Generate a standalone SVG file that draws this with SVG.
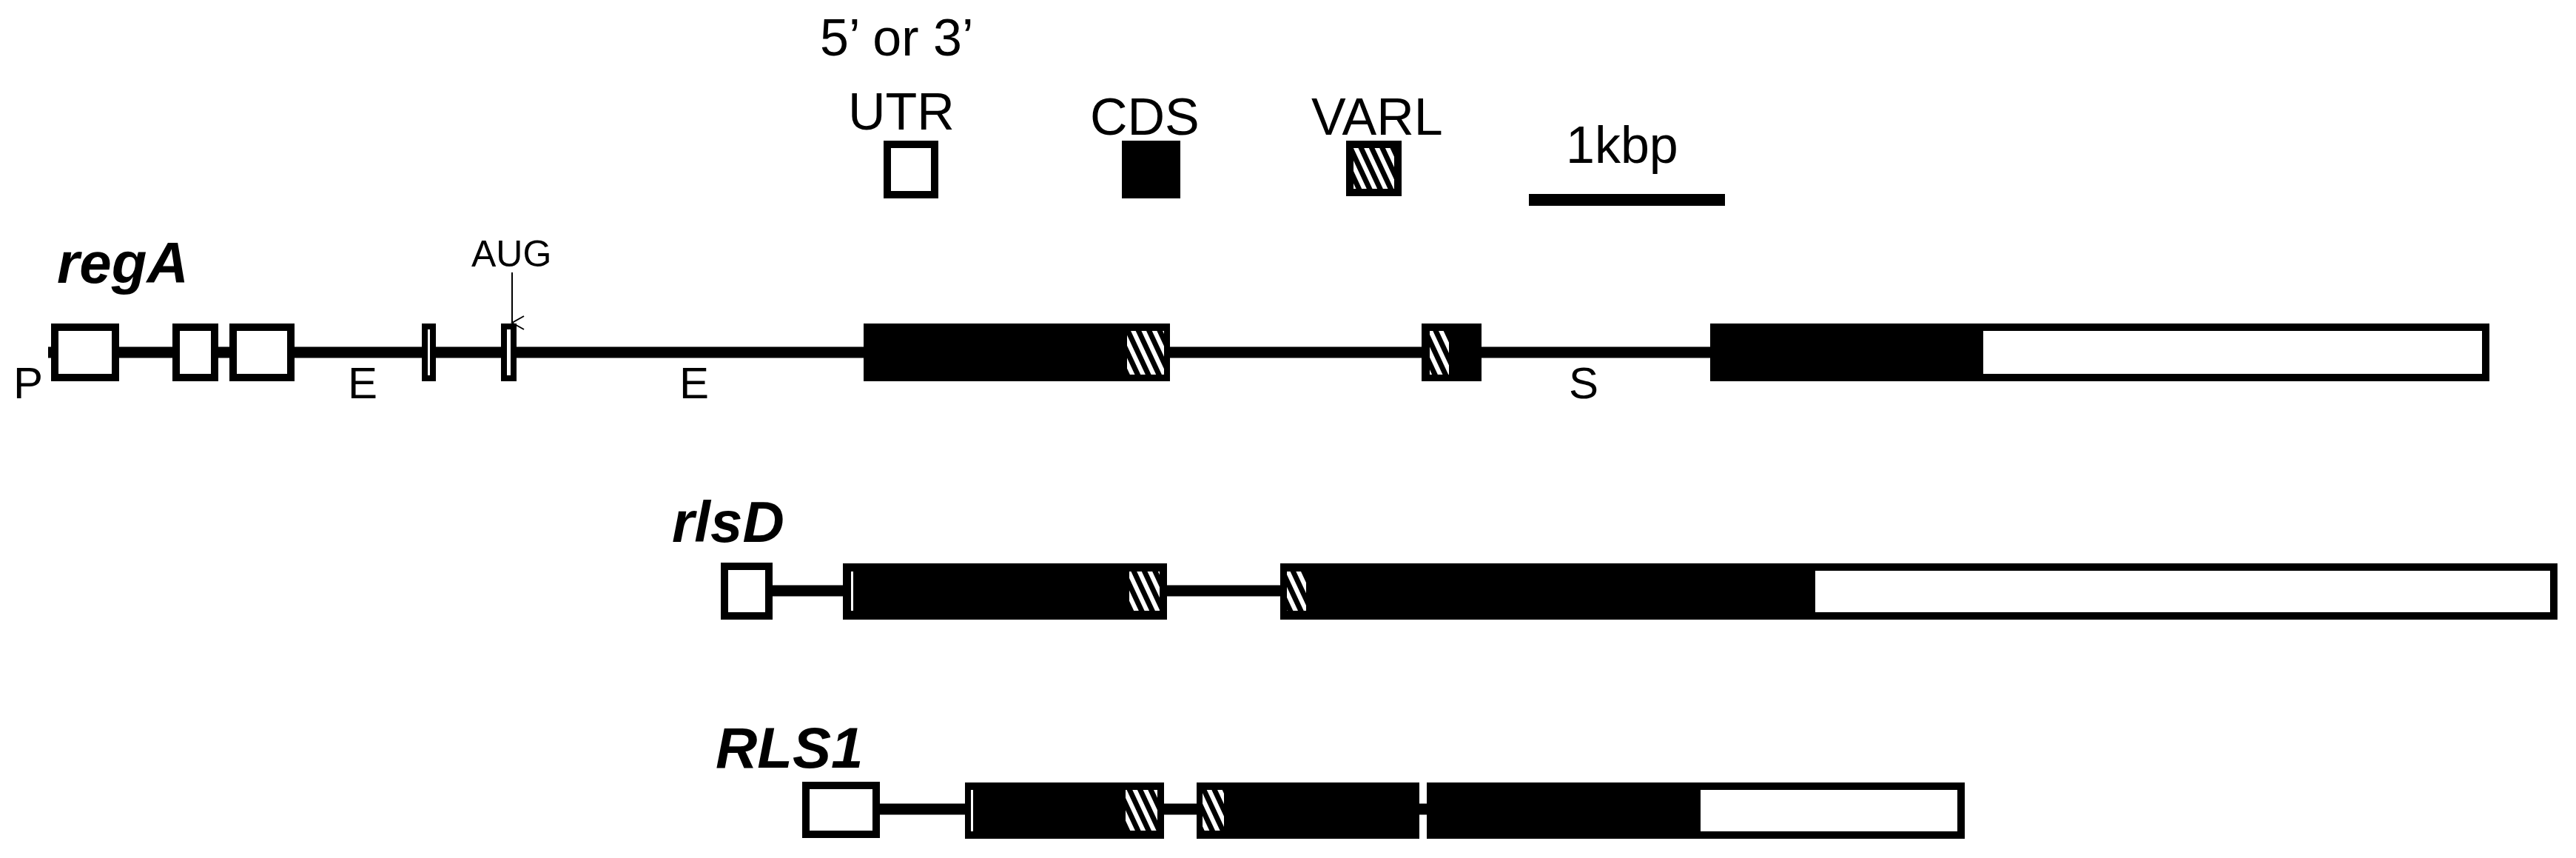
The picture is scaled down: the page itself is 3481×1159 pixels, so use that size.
<svg xmlns="http://www.w3.org/2000/svg" width="3481" height="1159" viewBox="0 0 3481 1159">
<style>
text{font-family:"Liberation Sans",Arial,sans-serif;fill:#000}
.lg{font-size:70px}
.gn{font-size:78px;font-weight:bold;font-style:italic}
.sm{font-size:60px}
.utr{fill:#fff;stroke:#000;stroke-width:10}
.cds{fill:#000}
.var{fill:url(#hatch)}
.ln{stroke:#000;stroke-width:15}
</style>
<defs>
<pattern id="hatch" patternUnits="userSpaceOnUse" width="13" height="13" patternTransform="rotate(-25)">
<rect width="13" height="13" fill="#000"/>
<rect x="0" y="0" width="6" height="13" fill="#fff"/>
</pattern>
<marker id="arr" markerWidth="20" markerHeight="20" refX="10" refY="18" orient="auto" markerUnits="userSpaceOnUse" viewBox="0 0 20 20">
<path d="M1,2 L10,18 L19,2" fill="none" stroke="#000" stroke-width="2"/>
</marker>
</defs>
<g id="legend">
<text class="lg" x="1108" y="75">5’ or 3’</text>
<text class="lg" x="1146" y="175">UTR</text>
<rect class="utr" x="1199" y="195" width="64" height="68"/>
<text class="lg" x="1473" y="182">CDS</text>
<rect class="cds" x="1516" y="190" width="79" height="78"/>
<text class="lg" x="1772" y="182">VARL</text>
<rect x="1819" y="190" width="75" height="75" fill="#000"/>
<rect class="var" x="1829" y="200" width="55" height="55"/>
<text class="lg" x="2116" y="220">1kbp</text>
<rect x="2066" y="262" width="265" height="16" fill="#000"/>
</g>
<g id="connectors">
<line class="ln" x1="65" y1="476" x2="1170" y2="476"/>
<line class="ln" x1="1580" y1="476" x2="2312" y2="476"/>
<line class="ln" x1="1044" y1="798" x2="1140" y2="798"/>
<line class="ln" x1="1576" y1="798" x2="1731" y2="798"/>
<line class="ln" x1="1189" y1="1093" x2="1305" y2="1093"/>
<line class="ln" x1="1572" y1="1093" x2="1930" y2="1093"/>
<line x1="692" y1="368" x2="692" y2="436" stroke="#000" stroke-width="2" marker-end="url(#arr)"/>
</g>
<g id="regA">
<text class="gn" x="77" y="382">regA</text>
<text class="sm" x="18" y="538">P</text>
<text class="sm" x="470" y="538">E</text>
<text class="sm" x="918" y="538">E</text>
<text class="sm" x="2120" y="538">S</text>
<text x="637" y="360" font-size="50" fill="#222">AUG</text>
<rect class="utr" x="74" y="442" width="82" height="68"/>
<rect class="utr" x="238" y="442" width="52" height="68"/>
<rect class="utr" x="315" y="442" width="78" height="68"/>
<rect x="574" y="441" width="11" height="70" fill="#fff" stroke="#000" stroke-width="8"/>
<rect x="681" y="441" width="13" height="70" fill="#fff" stroke="#000" stroke-width="8"/>
<rect class="cds" x="1167" y="437" width="414" height="78"/>
<rect class="var" x="1523" y="447" width="50" height="59"/>
<rect class="cds" x="1921" y="437" width="81" height="78"/>
<rect class="var" x="1932" y="447" width="26" height="59"/>
<rect class="cds" x="2311" y="437" width="359" height="78"/>
<rect class="utr" x="2675" y="442" width="684" height="68"/>
</g>
<g id="rlsD">
<text class="gn" x="908" y="732">rlsD</text>
<rect class="utr" x="979" y="765" width="60" height="67"/>
<rect class="cds" x="1139" y="761" width="438" height="76"/>
<rect x="1150" y="772" width="3" height="53" fill="#fff"/>
<rect class="var" x="1526" y="772" width="41" height="53"/>
<rect class="cds" x="1730" y="761" width="714" height="76"/>
<rect class="var" x="1739" y="772" width="26" height="53"/>
<rect class="utr" x="2448" y="766" width="1003" height="66"/>
</g>
<g id="RLS1">
<text class="gn" x="967" y="1037">RLS1</text>
<rect class="utr" x="1089" y="1061" width="95" height="66"/>
<rect class="cds" x="1304" y="1057" width="269" height="76"/>
<rect x="1312" y="1067" width="3" height="56" fill="#fff"/>
<rect class="var" x="1521" y="1067" width="43" height="55"/>
<rect class="cds" x="1617" y="1057" width="301" height="76"/>
<rect class="var" x="1625" y="1067" width="29" height="55"/>
<rect class="cds" x="1928" y="1057" width="361" height="76"/>
<rect class="utr" x="2293" y="1062" width="357" height="66"/>
</g>
</svg>
